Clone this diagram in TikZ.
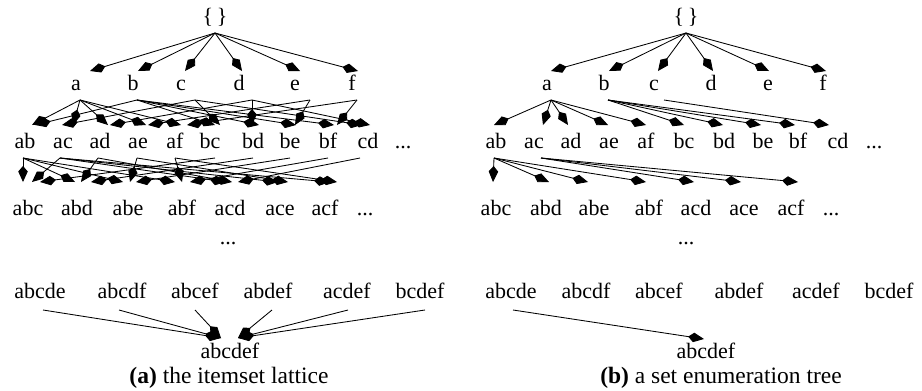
\documentclass[tikz,border=0pt]{standalone}
\usepackage{fontspec}
\setmainfont{Liberation Serif}
\usetikzlibrary{arrows.meta}
\begin{document}
\begin{tikzpicture}[x=1pt,y=-1pt,
  lbl/.style={inner sep=0pt, anchor=base, font=\fontsize{22}{26}\selectfont},
  captxt/.style={inner sep=0pt, anchor=base, font=\fontsize{23.5}{28}\selectfont},
  edge/.style={line width=0.85pt, -{Kite[length=16pt,width=9.5pt,inset=5.5pt]}},
]
\useasboundingbox (0,0) rectangle (922,391);

% ---------- (a) the itemset lattice ----------
\node[lbl] (Lr) at (215,23) {\{\,\}};
\foreach \n/\x in {a/76,b/133,c/181,d/239,e/295,f/352}
  \node[lbl] (L\n) at (\x,90) {\n};
\foreach \n/\x in {ab/25,ac/63,ad/100,ae/138,af/175,bc/210,bd/253,be/290,bf/328,cd/368}
  \node[lbl] (L\n) at (\x,148) {\n};
\node[lbl] (Ldotsb) at (403,148) {...};
\foreach \n/\x in {abc/28,abd/77,abe/128,abf/182,acd/230,ace/280,acf/325}
  \node[lbl] (L\n) at (\x,215) {\n};
\node[lbl] (Ldotsc) at (365,215) {...};
\node[lbl] (Ldotsm) at (228,244) {...};
\foreach \n/\x in {abcde/40,abcdf/122,abcef/195,abdef/268,acdef/347,bcdef/420}
  \node[lbl] (L\n) at (\x,298) {\n};
\node[lbl] (Labcdef) at (230,358) {abcdef};
\node[captxt] (Lcap) at (229,383) {\textbf{(a)} the itemset lattice};

% root to singletons
\foreach \c/\dx in {a/14,b/5,c/4,d/3,e/5,f/6}
  \draw[edge] ([yshift=-10pt]Lr.base) -- ([xshift=\dx pt,yshift=19pt]L\c.base);
% singletons to pairs
\foreach \p/\s/\c/\dx in {a/4/ab/7,a/4/ac/10,a/4/ad/8,a/4/ae/8,a/4/af/6,
    b/4/ab/10,b/4/bc/5,b/4/bd/6,b/4/be/6,b/4/bf/6,
    c/14/ac/-1,c/14/bc/10,c/14/cd/-6,
    d/13/ad/10,d/13/bd/-1,d/13/cd/2,
    e/15/ae/10,e/15/be/5,
    f/5/af/12,f/5/bf/9}
  \draw[edge] ([xshift=\s pt,yshift=-10pt]L\p.base) -- ([xshift=\dx pt,yshift=23pt]L\c.base);
% pairs to triples
\foreach \p/\s/\c/\dx in {ab/-2/abc/-5,ab/-2/abd/-2,ab/-2/abe/-5,ab/-2/abf/-7,
    ac/-3/abc/4,ac/-3/acd/-4,ac/-3/ace/-2,ac/-3/acf/5,
    ad/-2/abd/4,ad/-2/acd/2,
    ae/-1/abe/2,ae/-1/ace/8,
    af/0/abf/0,af/0/acf/12,
    bc/5/abc/12,bd/0/abd/14,be/0/abe/8,bf/0/abf/8,cd/-8/acd/8}
  \draw[edge] ([xshift=\s pt,yshift=-10pt]L\p.base) -- ([xshift=\dx pt,yshift=33pt]L\c.base);
% five-sets to the full set
\foreach \p/\s/\dx in {abcde/3/-9,abcdf/-3/-9,abcef/0/-9,abdef/4/8,acdef/1/8,bcdef/5/8}
  \draw[edge] ([xshift=\s pt,yshift=-12pt]L\p.base) -- ([xshift=\dx pt,yshift=20pt]Labcdef.base);

% ---------- (b) a set enumeration tree ----------
\node[lbl] (Rr) at (686,23) {\{\,\}};
\foreach \n/\x in {a/547,b/604,c/654,d/711,e/768,f/823}
  \node[lbl] (R\n) at (\x,90) {\n};
\foreach \n/\x in {ab/496,ac/534,ad/571,ae/609,af/646,bc/684,bd/724,be/763,bf/798,cd/838}
  \node[lbl] (R\n) at (\x,148) {\n};
\node[lbl] (Rdotsb) at (874,148) {...};
\foreach \n/\x in {abc/496,abd/546,abe/594,abf/649,acd/696,ace/744,acf/791}
  \node[lbl] (R\n) at (\x,215) {\n};
\node[lbl] (Rdotsc) at (831,215) {...};
\node[lbl] (Rdotsm) at (686,244) {...};
\foreach \n/\x in {abcde/511,abcdf/586,abcef/659,abdef/739,acdef/816,bcdef/889}
  \node[lbl] (R\n) at (\x,298) {\n};
\node[lbl] (Rabcdef) at (706,358) {abcdef};
\node[captxt] (Rcap) at (721,383) {\textbf{(b)} a set enumeration tree};

\foreach \c/\dx in {a/4,b/5,c/4,d/2,e/1,f/3}
  \draw[edge] ([yshift=-10pt]Rr.base) -- ([xshift=\dx pt,yshift=19pt]R\c.base);
\foreach \p/\s/\c/\dx in {a/4/ab/-2,a/4/ac/9,a/4/ad/-3,a/4/ae/-1,a/4/af/0,
    b/4/bc/0,b/4/bd/-1,b/4/be/-2,b/4/bf/-3,
    c/10/cd/-9}
  \draw[edge] ([xshift=\s pt,yshift=-10pt]R\p.base) -- ([xshift=\dx pt,yshift=23pt]R\c.base);
\foreach \p/\s/\c/\dx in {ab/-2/abc/-3,ab/-2/abd/3,ab/-2/abe/-6,ab/-2/abf/-3,
    ac/7/acd/-2,ac/7/ace/-3,ac/7/acf/7}
  \draw[edge] ([xshift=\s pt,yshift=-10pt]R\p.base) -- ([xshift=\dx pt,yshift=33pt]R\c.base);
\draw[edge] ([xshift=2pt,yshift=-12pt]Rabcde.base) -- ([xshift=-2pt,yshift=19pt]Rabcdef.base);
\end{tikzpicture}
\end{document}
